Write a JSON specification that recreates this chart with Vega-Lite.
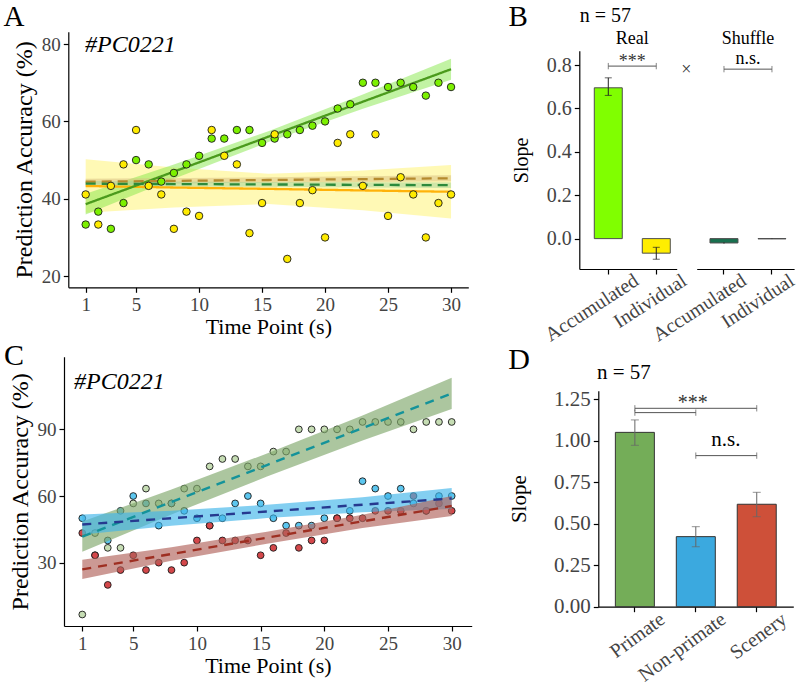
{
"$schema": "https://vega.github.io/schema/vega-lite/v6.json",
"width": 800, "height": 686, "autosize": {"type": "none"}, "padding": 0, "background": "white",
"config": {
  "font": "Liberation Serif",
  "view": {"stroke": null},
  "axis": {"grid": false, "domainColor": "#000", "domainWidth": 1.2, "tickColor": "#000", "tickWidth": 1.2, "tickSize": 5,
    "labelColor": "#444", "labelFont": "Liberation Serif", "labelFontSize": 19, "labelPadding": 3,
    "titleFont": "Liberation Serif", "titleFontSize": 22, "titleFontWeight": "normal", "titleColor": "#000"},
  "text": {"font": "Liberation Serif", "color": "#000"}
},
"resolve": {"scale": {"x": "independent", "y": "independent", "color": "independent", "fill": "independent", "stroke": "independent", "strokeDash": "independent"}},
"datasets": {
  "ptsA": [
    {"s":"Accumulated","t":1,"v":33.33},{"s":"Accumulated","t":2,"v":36.67},{"s":"Accumulated","t":3,"v":32.22},{"s":"Accumulated","t":4,"v":38.89},{"s":"Accumulated","t":5,"v":50},
    {"s":"Accumulated","t":6,"v":48.89},{"s":"Accumulated","t":7,"v":44.44},{"s":"Accumulated","t":8,"v":46.67},{"s":"Accumulated","t":9,"v":48.89},{"s":"Accumulated","t":10,"v":51.11},
    {"s":"Accumulated","t":11,"v":55.56},{"s":"Accumulated","t":12,"v":55.56},{"s":"Accumulated","t":13,"v":57.78},{"s":"Accumulated","t":14,"v":57.78},{"s":"Accumulated","t":15,"v":54.44},
    {"s":"Accumulated","t":16,"v":55.56},{"s":"Accumulated","t":17,"v":56.67},{"s":"Accumulated","t":18,"v":57.78},{"s":"Accumulated","t":19,"v":58.89},{"s":"Accumulated","t":20,"v":60},
    {"s":"Accumulated","t":21,"v":63.33},{"s":"Accumulated","t":22,"v":64.44},{"s":"Accumulated","t":23,"v":70},{"s":"Accumulated","t":24,"v":70},{"s":"Accumulated","t":25,"v":68.89},
    {"s":"Accumulated","t":26,"v":70},{"s":"Accumulated","t":27,"v":68.89},{"s":"Accumulated","t":28,"v":66.67},{"s":"Accumulated","t":29,"v":70},{"s":"Accumulated","t":30,"v":68.89},
    {"s":"Individual","t":1,"v":41.11},{"s":"Individual","t":2,"v":33.33},{"s":"Individual","t":3,"v":43.33},{"s":"Individual","t":4,"v":48.89},{"s":"Individual","t":5,"v":57.78},
    {"s":"Individual","t":6,"v":43.33},{"s":"Individual","t":7,"v":41.11},{"s":"Individual","t":8,"v":32.22},{"s":"Individual","t":9,"v":36.67},{"s":"Individual","t":10,"v":35.56},
    {"s":"Individual","t":11,"v":57.78},{"s":"Individual","t":12,"v":51.11},{"s":"Individual","t":13,"v":48.89},{"s":"Individual","t":14,"v":31.11},{"s":"Individual","t":15,"v":38.89},
    {"s":"Individual","t":16,"v":56.67},{"s":"Individual","t":17,"v":24.44},{"s":"Individual","t":18,"v":38.89},{"s":"Individual","t":19,"v":42.22},{"s":"Individual","t":20,"v":30},
    {"s":"Individual","t":21,"v":54.44},{"s":"Individual","t":22,"v":56.67},{"s":"Individual","t":23,"v":43.33},{"s":"Individual","t":24,"v":56.67},{"s":"Individual","t":25,"v":35.56},
    {"s":"Individual","t":26,"v":45.56},{"s":"Individual","t":27,"v":41.11},{"s":"Individual","t":28,"v":30},{"s":"Individual","t":29,"v":38.89},{"s":"Individual","t":30,"v":41.11}
  ],
  "fitA": [
    {"s":"Individual","t":1,"fit":43.3,"lo":36.4,"hi":50.2},{"s":"Individual","t":8,"fit":42.9,"lo":37.75,"hi":48.05},{"s":"Individual","t":15.5,"fit":42.55,"lo":38.65,"hi":46.45},{"s":"Individual","t":23,"fit":42.15,"lo":37.0,"hi":47.3},{"s":"Individual","t":30,"fit":41.8,"lo":34.9,"hi":48.7},
    {"s":"Accumulated","t":1,"fit":38.6,"lo":35.9,"hi":41.3},{"s":"Accumulated","t":8,"fit":47.0,"lo":45.15,"hi":48.85},{"s":"Accumulated","t":15.5,"fit":56.05,"lo":54.65,"hi":57.45},{"s":"Accumulated","t":23,"fit":65.1,"lo":63.25,"hi":66.95},{"s":"Accumulated","t":30,"fit":73.5,"lo":70.8,"hi":76.2},
    {"s":"ShuffleInd","t":1,"fit":44.4,"lo":43.6,"hi":45.2},{"s":"ShuffleInd","t":15.5,"fit":44.85,"lo":44.15,"hi":45.55},{"s":"ShuffleInd","t":30,"fit":45.3,"lo":44.5,"hi":46.1},
    {"s":"ShuffleAcc","t":1,"fit":43.9,"lo":43.2,"hi":44.6},{"s":"ShuffleAcc","t":15.5,"fit":43.7,"lo":43.1,"hi":44.3},{"s":"ShuffleAcc","t":30,"fit":43.5,"lo":42.8,"hi":44.2}
  ],
  "ptsC": [
    {"s":"Primate","t":1,"v":6.67},{"s":"Primate","t":2,"v":43.33},{"s":"Primate","t":3,"v":36.67},{"s":"Primate","t":4,"v":36.67},{"s":"Primate","t":5,"v":56.67},
    {"s":"Primate","t":6,"v":63.33},{"s":"Primate","t":7,"v":56.67},{"s":"Primate","t":8,"v":56.67},{"s":"Primate","t":9,"v":63.33},{"s":"Primate","t":10,"v":63.33},
    {"s":"Primate","t":11,"v":73.33},{"s":"Primate","t":12,"v":76.67},{"s":"Primate","t":13,"v":76.67},{"s":"Primate","t":14,"v":73.33},{"s":"Primate","t":15,"v":73.33},
    {"s":"Primate","t":16,"v":80},{"s":"Primate","t":17,"v":80},{"s":"Primate","t":18,"v":90},{"s":"Primate","t":19,"v":90},{"s":"Primate","t":20,"v":90},
    {"s":"Primate","t":21,"v":90},{"s":"Primate","t":22,"v":90},{"s":"Primate","t":23,"v":93.33},{"s":"Primate","t":24,"v":93.33},{"s":"Primate","t":25,"v":93.33},
    {"s":"Primate","t":26,"v":93.33},{"s":"Primate","t":27,"v":90},{"s":"Primate","t":28,"v":93.33},{"s":"Primate","t":29,"v":93.33},{"s":"Primate","t":30,"v":93.33},
    {"s":"Non-primate","t":1,"v":50},{"s":"Non-primate","t":2,"v":33.33},{"s":"Non-primate","t":3,"v":40},{"s":"Non-primate","t":4,"v":53.33},{"s":"Non-primate","t":5,"v":60},
    {"s":"Non-primate","t":6,"v":56.67},{"s":"Non-primate","t":7,"v":46.67},{"s":"Non-primate","t":8,"v":56.67},{"s":"Non-primate","t":9,"v":53.33},{"s":"Non-primate","t":10,"v":50},
    {"s":"Non-primate","t":11,"v":46.67},{"s":"Non-primate","t":12,"v":50},{"s":"Non-primate","t":13,"v":56.67},{"s":"Non-primate","t":14,"v":60},{"s":"Non-primate","t":15,"v":56.67},
    {"s":"Non-primate","t":16,"v":50},{"s":"Non-primate","t":17,"v":46.67},{"s":"Non-primate","t":18,"v":46.67},{"s":"Non-primate","t":19,"v":46.67},{"s":"Non-primate","t":20,"v":50},
    {"s":"Non-primate","t":21,"v":50},{"s":"Non-primate","t":22,"v":53.33},{"s":"Non-primate","t":23,"v":66.67},{"s":"Non-primate","t":24,"v":63.33},{"s":"Non-primate","t":25,"v":60},
    {"s":"Non-primate","t":26,"v":63.33},{"s":"Non-primate","t":27,"v":56.67},{"s":"Non-primate","t":28,"v":53.33},{"s":"Non-primate","t":29,"v":60},{"s":"Non-primate","t":30,"v":60},
    {"s":"Scenery","t":1,"v":43.33},{"s":"Scenery","t":2,"v":33.33},{"s":"Scenery","t":3,"v":20},{"s":"Scenery","t":4,"v":26.67},{"s":"Scenery","t":5,"v":33.33},
    {"s":"Scenery","t":6,"v":26.67},{"s":"Scenery","t":7,"v":30},{"s":"Scenery","t":8,"v":26.67},{"s":"Scenery","t":9,"v":30},{"s":"Scenery","t":10,"v":40},
    {"s":"Scenery","t":11,"v":46.67},{"s":"Scenery","t":12,"v":40},{"s":"Scenery","t":13,"v":40},{"s":"Scenery","t":14,"v":40},{"s":"Scenery","t":15,"v":33.33},
    {"s":"Scenery","t":16,"v":36.67},{"s":"Scenery","t":17,"v":43.33},{"s":"Scenery","t":18,"v":36.67},{"s":"Scenery","t":19,"v":40},{"s":"Scenery","t":20,"v":40},
    {"s":"Scenery","t":21,"v":50},{"s":"Scenery","t":22,"v":50},{"s":"Scenery","t":23,"v":50},{"s":"Scenery","t":24,"v":53.33},{"s":"Scenery","t":25,"v":53.33},
    {"s":"Scenery","t":26,"v":53.33},{"s":"Scenery","t":27,"v":60},{"s":"Scenery","t":28,"v":53.33},{"s":"Scenery","t":29,"v":56.67},{"s":"Scenery","t":30,"v":53.33}
  ],
  "fitC": [
    {"s":"Primate","t":1,"fit":41.7,"lo":34.9,"hi":48.5},{"s":"Primate","t":8,"fit":57.3,"lo":51.7,"hi":62.9},{"s":"Primate","t":15.5,"fit":73.95,"lo":68.75,"hi":79.15},{"s":"Primate","t":23,"fit":90.6,"lo":85.0,"hi":96.2},{"s":"Primate","t":30,"fit":106.2,"lo":99.2,"hi":113.2},
    {"s":"Non-primate","t":1,"fit":47.2,"lo":42.7,"hi":51.7},{"s":"Non-primate","t":8,"fit":50.0,"lo":46.6,"hi":53.4},{"s":"Non-primate","t":15.5,"fit":53.05,"lo":50.05,"hi":56.05},{"s":"Non-primate","t":23,"fit":56.1,"lo":52.7,"hi":59.5},{"s":"Non-primate","t":30,"fit":58.9,"lo":54.2,"hi":63.6},
    {"s":"Scenery","t":1,"fit":27.0,"lo":22.7,"hi":31.3},{"s":"Scenery","t":8,"fit":33.9,"lo":30.9,"hi":36.9},{"s":"Scenery","t":15.5,"fit":41.25,"lo":38.55,"hi":43.95},{"s":"Scenery","t":23,"fit":48.6,"lo":45.6,"hi":51.6},{"s":"Scenery","t":30,"fit":55.5,"lo":51.0,"hi":60.0}
  ],
  "barsB": [
    {"panel":"Real","g":"Accumulated","v":0.695,"lo":0.66,"hi":0.741},
    {"panel":"Real","g":"Individual","v":-0.067,"lo":-0.095,"hi":-0.04},
    {"panel":"Shuffle","g":"Accumulated","v":-0.02,"lo":-0.023,"hi":-0.017},
    {"panel":"Shuffle","g":"Individual","v":-0.001,"lo":-0.002,"hi":0.0}
  ],
  "brB": [
    {"panel":"Real","from":"Accumulated","to":"Individual","y":0.795},
    {"panel":"Shuffle","from":"Accumulated","to":"Individual","y":0.781}
  ],
  "barsD": [
    {"g":"Primate","v":1.05,"lo":0.972,"hi":1.125},
    {"g":"Non-primate","v":0.422,"lo":0.361,"hi":0.482},
    {"g":"Scenery","v":0.617,"lo":0.542,"hi":0.689}
  ],
  "brD": [
    {"from":"Primate","to":"Non-primate","y":1.169},
    {"from":"Primate","to":"Scenery","y":1.195},
    {"from":"Non-primate","to":"Scenery","y":0.91}
  ]
},
"layer": [
  {"layer": [
    {"data": {"name": "fitA"}, "mark": {"type": "area", "opacity": 0.5},
     "encoding": {
       "x": {"field": "t", "type": "quantitative", "scale": {"domain": [-0.38, 31.37], "range": [68.3, 468.3], "nice": false, "zero": false},
             "axis": {"orient": "bottom", "offset": -398.7, "values": [1,5,10,15,20,25,30], "title": "Time Point (s)", "titlePadding": 2, "labelFont": "Liberation Serif", "titleFont": "Liberation Serif"}},
       "y": {"field": "lo", "type": "quantitative", "scale": {"domain": [17.1, 83.2], "range": [287.3, 31.7], "nice": false, "zero": false},
             "axis": {"orient": "left", "offset": -68.3, "values": [20,40,60,80], "title": "Prediction Accuracy (%)", "titleFontSize": 24, "titlePadding": 5, "labelFont": "Liberation Serif", "titleFont": "Liberation Serif"}},
       "y2": {"field": "hi"},
       "color": {"field": "s", "type": "nominal", "scale": {"domain": ["Accumulated","Individual","ShuffleAcc","ShuffleInd"], "range": ["#86E84A","#FFF36B","#9FD39A","#D8BE80"]}, "legend": null}
     }},
    {"data": {"name": "fitA"}, "mark": {"type": "line", "strokeWidth": 2.3},
     "encoding": {
       "x": {"field": "t", "type": "quantitative"},
       "y": {"field": "fit", "type": "quantitative"},
       "stroke": {"field": "s", "type": "nominal", "scale": {"domain": ["Accumulated","Individual","ShuffleAcc","ShuffleInd"], "range": ["#4A9A1C","#FFB20A","#2D8A3C","#B58A2E"]}, "legend": null},
       "strokeDash": {"field": "s", "type": "nominal", "scale": {"domain": ["Accumulated","Individual","ShuffleAcc","ShuffleInd"], "range": [[1,0],[1,0],[10,6],[10,6]]}, "legend": null}
     }},
    {"data": {"name": "ptsA"}, "mark": {"type": "circle", "size": 56, "stroke": "#1a1a1a", "strokeWidth": 0.9, "opacity": 1},
     "encoding": {
       "x": {"field": "t", "type": "quantitative"},
       "y": {"field": "v", "type": "quantitative"},
       "fill": {"field": "s", "type": "nominal", "scale": {"domain": ["Accumulated","Individual"], "range": ["#7CF000","#FFEB00"]}, "legend": null}
     }},
    {"data": {"values": [{"x": -4.69, "y": 87.0, "label": "A"}, {"x": 35.32, "y": 86.9, "label": "B"}]},
     "mark": {"type": "text", "fontSize": 29, "align": "center", "baseline": "middle"},
     "encoding": {"x": {"field": "x", "type": "quantitative"}, "y": {"field": "y", "type": "quantitative"}, "text": {"field": "label"}}},
    {"data": {"values": [{"x": 0.95, "y": 79.76, "label": "#PC0221"}]},
     "mark": {"type": "text", "fontSize": 24, "fontStyle": "italic", "align": "left", "baseline": "middle"},
     "encoding": {"x": {"field": "x", "type": "quantitative"}, "y": {"field": "y", "type": "quantitative"}, "text": {"field": "label"}}}
  ]},
  {"layer": [
    {"data": {"name": "barsB"}, "transform": [{"filter": "datum.panel === 'Real'"}],
     "mark": {"type": "bar", "stroke": "#4d4d4d", "strokeWidth": 1},
     "encoding": {
       "x": {"field": "g", "type": "nominal", "sort": null, "scale": {"domain": ["Accumulated","Individual"], "range": [579.3, 676.7], "paddingInner": 0.4167, "paddingOuter": 0.223, "align": 0.7},
             "axis": {"orient": "bottom", "offset": -417, "title": null, "labelAngle": -33, "labelOffset": 23, "labelPadding": -4, "labelFontSize": 20, "labelFont": "Liberation Serif"}},
       "y": {"field": "v", "type": "quantitative", "scale": {"domain": [-0.14, 0.866], "range": [269, 50.7], "nice": false, "zero": false},
             "axis": {"orient": "left", "offset": -579.3, "values": [0,0.2,0.4,0.6,0.8], "format": ".1f", "title": "Slope", "titleFontSize": 20, "titlePadding": 15, "labelFontSize": 20, "labelFont": "Liberation Serif", "titleFont": "Liberation Serif"}},
       "y2": {"datum": 0},
       "fill": {"field": "g", "type": "nominal", "scale": {"domain": ["Accumulated","Individual"], "range": ["#80FF00","#FFEE00"]}, "legend": null}
     }},
    {"data": {"name": "barsB"}, "transform": [{"filter": "datum.panel === 'Real'"}],
     "mark": {"type": "rule", "color": "#222"},
     "encoding": {"x": {"field": "g", "type": "nominal"}, "y": {"field": "lo", "type": "quantitative"}, "y2": {"field": "hi"}}},
    {"data": {"name": "barsB"}, "transform": [{"filter": "datum.panel === 'Real'"}],
     "mark": {"type": "tick", "size": 7, "thickness": 1, "color": "#222"},
     "encoding": {"x": {"field": "g", "type": "nominal"}, "y": {"field": "lo", "type": "quantitative"}}},
    {"data": {"name": "barsB"}, "transform": [{"filter": "datum.panel === 'Real'"}],
     "mark": {"type": "tick", "size": 7, "thickness": 1, "color": "#222"},
     "encoding": {"x": {"field": "g", "type": "nominal"}, "y": {"field": "hi", "type": "quantitative"}}},
    {"data": {"name": "brB"}, "transform": [{"filter": "datum.panel === 'Real'"}],
     "mark": {"type": "rule", "color": "#555"},
     "encoding": {"x": {"field": "from", "type": "nominal"}, "x2": {"field": "to"}, "y": {"field": "y", "type": "quantitative"}}},
    {"data": {"name": "brB"}, "transform": [{"filter": "datum.panel === 'Real'"}],
     "mark": {"type": "point", "shape": "M0,-1L0,1", "size": 40, "filled": false, "color": "#555", "strokeWidth": 1},
     "encoding": {"x": {"field": "from", "type": "nominal"}, "y": {"field": "y", "type": "quantitative"}}},
    {"data": {"name": "brB"}, "transform": [{"filter": "datum.panel === 'Real'"}],
     "mark": {"type": "point", "shape": "M0,-1L0,1", "size": 40, "filled": false, "color": "#555", "strokeWidth": 1},
     "encoding": {"x": {"field": "to", "type": "nominal"}, "y": {"field": "y", "type": "quantitative"}}},
    {"data": {"values": [{"g": "Accumulated", "y": 0.918, "label": "Real"}]},
     "mark": {"type": "text", "fontSize": 18, "dx": 24, "baseline": "middle"},
     "encoding": {"x": {"field": "g", "type": "nominal"}, "y": {"field": "y", "type": "quantitative"}, "text": {"field": "label"}}},
    {"data": {"values": [{"g": "Accumulated", "y": 0.812, "label": "***"}]},
     "mark": {"type": "text", "fontSize": 18, "dx": 24, "baseline": "middle", "color": "#333"},
     "encoding": {"x": {"field": "g", "type": "nominal"}, "y": {"field": "y", "type": "quantitative"}, "text": {"field": "label"}}},
    {"data": {"values": [{"g": "Accumulated", "y": 1.026, "label": "n = 57"}]},
     "mark": {"type": "text", "fontSize": 20, "dx": -3, "baseline": "middle"},
     "encoding": {"x": {"field": "g", "type": "nominal"}, "y": {"field": "y", "type": "quantitative"}, "text": {"field": "label"}}},
    {"data": {"values": [{"g": "Individual", "y": 0.777, "label": "×"}]},
     "mark": {"type": "text", "fontSize": 18, "dx": 30, "baseline": "middle", "color": "#333"},
     "encoding": {"x": {"field": "g", "type": "nominal"}, "y": {"field": "y", "type": "quantitative"}, "text": {"field": "label"}}}
  ]},
  {"layer": [
    {"data": {"name": "barsB"}, "transform": [{"filter": "datum.panel === 'Shuffle'"}],
     "mark": {"type": "bar", "stroke": "#4d4d4d", "strokeWidth": 1},
     "encoding": {
       "x": {"field": "g", "type": "nominal", "sort": null, "scale": {"domain": ["Accumulated","Individual"], "range": [696.7, 794.1], "paddingInner": 0.4167, "paddingOuter": 0.223, "align": 0.62},
             "axis": {"orient": "bottom", "offset": -417, "title": null, "labelAngle": -33, "labelOffset": 15, "labelPadding": -4, "labelFontSize": 20, "labelFont": "Liberation Serif"}},
       "y": {"field": "v", "type": "quantitative", "scale": {"domain": [-0.14, 0.866], "range": [269, 50.7], "nice": false, "zero": false}, "axis": null},
       "y2": {"datum": 0},
       "fill": {"field": "g", "type": "nominal", "scale": {"domain": ["Accumulated","Individual"], "range": ["#18704F","#18704F"]}, "legend": null}
     }},
    {"data": {"name": "barsB"}, "transform": [{"filter": "datum.panel === 'Shuffle'"}],
     "mark": {"type": "rule", "color": "#222"},
     "encoding": {"x": {"field": "g", "type": "nominal"}, "y": {"field": "lo", "type": "quantitative", "axis": null}, "y2": {"field": "hi"}}},
    {"data": {"name": "brB"}, "transform": [{"filter": "datum.panel === 'Shuffle'"}],
     "mark": {"type": "rule", "color": "#555"},
     "encoding": {"x": {"field": "from", "type": "nominal"}, "x2": {"field": "to"}, "y": {"field": "y", "type": "quantitative", "axis": null}}},
    {"data": {"name": "brB"}, "transform": [{"filter": "datum.panel === 'Shuffle'"}],
     "mark": {"type": "point", "shape": "M0,-1L0,1", "size": 40, "filled": false, "color": "#555", "strokeWidth": 1},
     "encoding": {"x": {"field": "from", "type": "nominal"}, "y": {"field": "y", "type": "quantitative", "axis": null}}},
    {"data": {"name": "brB"}, "transform": [{"filter": "datum.panel === 'Shuffle'"}],
     "mark": {"type": "point", "shape": "M0,-1L0,1", "size": 40, "filled": false, "color": "#555", "strokeWidth": 1},
     "encoding": {"x": {"field": "to", "type": "nominal"}, "y": {"field": "y", "type": "quantitative", "axis": null}}},
    {"data": {"values": [{"g": "Accumulated", "y": 0.918, "label": "Shuffle"}]},
     "mark": {"type": "text", "fontSize": 18, "dx": 24, "baseline": "middle"},
     "encoding": {"x": {"field": "g", "type": "nominal"}, "y": {"field": "y", "type": "quantitative", "axis": null}, "text": {"field": "label"}}},
    {"data": {"values": [{"g": "Accumulated", "y": 0.83, "label": "n.s."}]},
     "mark": {"type": "text", "fontSize": 18, "dx": 24, "baseline": "middle"},
     "encoding": {"x": {"field": "g", "type": "nominal"}, "y": {"field": "y", "type": "quantitative", "axis": null}, "text": {"field": "label"}}}
  ]},
  {"layer": [
    {"data": {"name": "ptsC"}, "mark": {"type": "circle", "size": 46, "stroke": "#1a1a1a", "strokeWidth": 0.9, "opacity": 1},
     "encoding": {
       "x": {"field": "t", "type": "quantitative", "scale": {"domain": [-0.436, 31.57], "range": [64, 471.7], "nice": false, "zero": false},
             "axis": {"orient": "bottom", "offset": -60, "values": [1,5,10,15,20,25,30], "title": "Time Point (s)", "titlePadding": 2, "labelFont": "Liberation Serif", "titleFont": "Liberation Serif"}},
       "y": {"field": "v", "type": "quantitative", "scale": {"domain": [1.5, 122.7], "range": [626, 356.7], "nice": false, "zero": false},
             "axis": {"orient": "left", "offset": -64, "values": [30,60,90], "title": "Prediction Accuracy (%)", "titleFontSize": 24, "titlePadding": 5, "labelFont": "Liberation Serif", "titleFont": "Liberation Serif"}},
       "fill": {"field": "s", "type": "nominal", "scale": {"domain": ["Primate","Non-primate","Scenery"], "range": ["#C6DDB4","#5CC6EF","#D4474A"]}, "legend": null}
     }},
    {"data": {"name": "fitC"}, "mark": {"type": "area", "opacity": 0.65},
     "encoding": {
       "x": {"field": "t", "type": "quantitative"},
       "y": {"field": "lo", "type": "quantitative"},
       "y2": {"field": "hi"},
       "color": {"field": "s", "type": "nominal", "scale": {"domain": ["Primate","Non-primate","Scenery"], "range": ["#7FA86C","#40B5EA","#B0625A"]}, "legend": null}
     }},
    {"data": {"name": "fitC"}, "mark": {"type": "line", "strokeWidth": 2.4, "strokeDash": [9,7]},
     "encoding": {
       "x": {"field": "t", "type": "quantitative"},
       "y": {"field": "fit", "type": "quantitative"},
       "stroke": {"field": "s", "type": "nominal", "scale": {"domain": ["Primate","Non-primate","Scenery"], "range": ["#14939A","#26398F","#9E2F22"]}, "legend": null}
     }},
    {"data": {"values": [{"x": -4.36, "y": 123.2, "label": "C"}, {"x": 35.28, "y": 121.2, "label": "D"}]},
     "mark": {"type": "text", "fontSize": 30, "align": "center", "baseline": "middle"},
     "encoding": {"x": {"field": "x", "type": "quantitative"}, "y": {"field": "y", "type": "quantitative"}, "text": {"field": "label"}}},
    {"data": {"values": [{"x": 0.35, "y": 111.5, "label": "#PC0221"}]},
     "mark": {"type": "text", "fontSize": 24, "fontStyle": "italic", "align": "left", "baseline": "middle"},
     "encoding": {"x": {"field": "x", "type": "quantitative"}, "y": {"field": "y", "type": "quantitative"}, "text": {"field": "label"}}}
  ]},
  {"layer": [
    {"data": {"name": "barsD"},
     "mark": {"type": "bar", "stroke": "#333", "strokeWidth": 1},
     "encoding": {
       "x": {"field": "g", "type": "nominal", "sort": null, "scale": {"domain": ["Primate","Non-primate","Scenery"], "range": [598.3, 793.3], "paddingInner": 0.36, "paddingOuter": 0.28},
             "axis": {"orient": "bottom", "offset": -79.3, "title": null, "labelAngle": -36, "labelOffset": 22, "labelPadding": -3, "labelFontSize": 20, "labelFont": "Liberation Serif"}},
       "y": {"field": "v", "type": "quantitative", "scale": {"domain": [0, 1.301], "range": [606.7, 390.7], "nice": false, "zero": false},
             "axis": {"orient": "left", "offset": -598.3, "values": [0,0.25,0.5,0.75,1,1.25], "format": ".2f", "title": "Slope", "titleFontSize": 21, "titlePadding": 24, "labelFontSize": 21, "labelFont": "Liberation Serif", "titleFont": "Liberation Serif"}},
       "y2": {"datum": 0},
       "fill": {"field": "g", "type": "nominal", "scale": {"domain": ["Primate","Non-primate","Scenery"], "range": ["#74AD58","#3BA9DF","#CE5039"]}, "legend": null}
     }},
    {"data": {"name": "barsD"}, "mark": {"type": "rule", "color": "#666"},
     "encoding": {"x": {"field": "g", "type": "nominal"}, "y": {"field": "lo", "type": "quantitative"}, "y2": {"field": "hi"}}},
    {"data": {"name": "barsD"}, "mark": {"type": "tick", "size": 8, "thickness": 1, "color": "#666"},
     "encoding": {"x": {"field": "g", "type": "nominal"}, "y": {"field": "lo", "type": "quantitative"}}},
    {"data": {"name": "barsD"}, "mark": {"type": "tick", "size": 8, "thickness": 1, "color": "#666"},
     "encoding": {"x": {"field": "g", "type": "nominal"}, "y": {"field": "hi", "type": "quantitative"}}},
    {"data": {"name": "brD"}, "mark": {"type": "rule", "color": "#555"},
     "encoding": {"x": {"field": "from", "type": "nominal"}, "x2": {"field": "to"}, "y": {"field": "y", "type": "quantitative"}}},
    {"data": {"name": "brD"}, "mark": {"type": "point", "shape": "M0,-1L0,1", "size": 40, "filled": false, "color": "#555", "strokeWidth": 1},
     "encoding": {"x": {"field": "from", "type": "nominal"}, "y": {"field": "y", "type": "quantitative"}}},
    {"data": {"name": "brD"}, "mark": {"type": "point", "shape": "M0,-1L0,1", "size": 40, "filled": false, "color": "#555", "strokeWidth": 1},
     "encoding": {"x": {"field": "to", "type": "nominal"}, "y": {"field": "y", "type": "quantitative"}}},
    {"data": {"values": [{"g": "Non-primate", "y": 1.225, "label": "***"}]},
     "mark": {"type": "text", "fontSize": 20, "dx": -3, "baseline": "middle", "color": "#333"},
     "encoding": {"x": {"field": "g", "type": "nominal"}, "y": {"field": "y", "type": "quantitative"}, "text": {"field": "label"}}},
    {"data": {"values": [{"g": "Non-primate", "y": 1.004, "label": "n.s."}]},
     "mark": {"type": "text", "fontSize": 21, "dx": 30, "baseline": "middle"},
     "encoding": {"x": {"field": "g", "type": "nominal"}, "y": {"field": "y", "type": "quantitative"}, "text": {"field": "label"}}},
    {"data": {"values": [{"g": "Primate", "y": 1.406, "label": "n = 57"}]},
     "mark": {"type": "text", "fontSize": 21, "dx": -11, "baseline": "middle"},
     "encoding": {"x": {"field": "g", "type": "nominal"}, "y": {"field": "y", "type": "quantitative"}, "text": {"field": "label"}}}
  ]}
]
}
